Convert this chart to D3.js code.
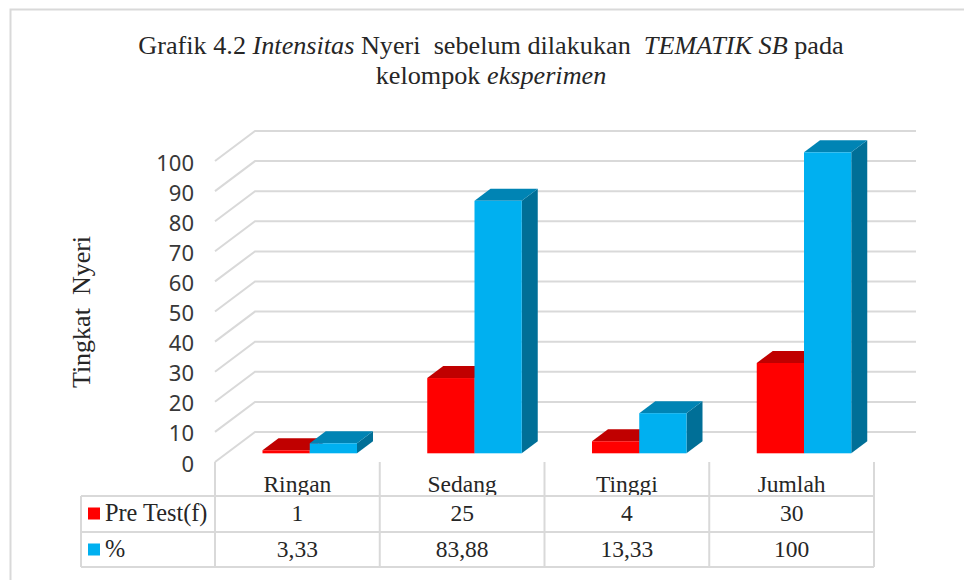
<!DOCTYPE html>
<html>
<head>
<meta charset="utf-8">
<script src="https://cdn.jsdelivr.net/npm/d3@7"></script>
<style>
  html, body { margin: 0; padding: 0; background: #fff; }
  svg { display: block; }
  text { fill: #262626; font-family: "Liberation Serif", serif; white-space: pre; }
  .tick text { font-family: "Noto Sans", sans-serif; font-size: 22px; fill: #383838; }
  .grid { stroke: #d9d9d9; stroke-width: 2; fill: none; }
</style>
</head>
<body>
<div id="chart"></div>
<script>
var categories = ["Ringan", "Sedang", "Tinggi", "Jumlah"];
var preTest = [1, 25, 4, 30];
var percent = [3.33, 83.88, 13.33, 100];
var preTestLabels = ["1", "25", "4", "30"];
var percentLabels = ["3,33", "83,88", "13,33", "100"];
var seriesNames = ["Pre Test(f)", "%"];
var yTicks = [0, 10, 20, 30, 40, 50, 60, 70, 80, 90, 100];

var width = 964, height = 580;
var depthX = 16, depthY = 12;   // bar depth
var wallX = 40, wallY = 30;     // floor depth

var svg = d3.select("#chart").append("svg")
    .attr("width", width)
    .attr("height", height);

// outer frame, only top and left are inside the picture
svg.append("path")
    .attr("class", "grid")
    .attr("stroke-width", 2)
    .attr("d", "M10.5,580V9.5H964");

// title
var title = svg.append("text")
    .attr("text-anchor", "middle")
    .attr("font-size", 26.2);
var line1 = title.append("tspan").attr("x", 491).attr("y", 54);
line1.append("tspan").text("Grafik 4.2 ");
line1.append("tspan").attr("font-style", "italic").text("Intensitas ");
line1.append("tspan").text("Nyeri  sebelum dilakukan  ");
line1.append("tspan").attr("font-style", "italic").text("TEMATIK SB ");
line1.append("tspan").text("pada");
var line2 = title.append("tspan").attr("x", 491).attr("y", 84);
line2.append("tspan").text("kelompok ");
line2.append("tspan").attr("font-style", "italic").text("eksperimen");

// y title
svg.append("text")
    .attr("transform", "translate(90,312) rotate(-90)")
    .attr("text-anchor", "middle")
    .attr("font-size", 26)
    .text("Tingkat  Nyeri");

// scales: y is the front plane of the plot
var y = d3.scaleLinear().domain([0, 100]).range([462, 161]);
var x = d3.scaleBand().domain(categories).range([215, 874]);
var inner = d3.scaleBand().domain(d3.range(2)).range([47.5, 142]);

// gridlines on the back wall and floor edge
var grid = svg.append("g");
grid.selectAll("path")
    .data(yTicks)
    .enter().append("path")
    .attr("class", "grid")
    .attr("d", function(d) {
      return "M215," + y(d) + "L" + (215 + wallX) + "," + (y(d) - wallY) + "H916";
    });

// y axis labels
svg.append("g")
    .attr("transform", "translate(194,2)")
    .call(d3.axisLeft(y).tickValues(yTicks).tickSize(0).tickPadding(0))
    .call(function(g) { g.select(".domain").remove(); });

// 3D bars
var barBase = y(0) - 8.7;
function drawBar(cat, i, value, front, top, side) {
  var x0 = x(cat) + inner(i), bw = inner.bandwidth();
  var y0 = barBase - (y(0) - y(value));
  var g = svg.append("g");
  g.append("path").attr("fill", side)
    .attr("d", "M" + (x0 + bw) + "," + y0 + "l" + depthX + "," + (-depthY) +
               "V" + (barBase - depthY) + "l" + (-depthX) + "," + depthY + "Z");
  g.append("path").attr("fill", top)
    .attr("d", "M" + x0 + "," + y0 + "l" + depthX + "," + (-depthY) +
               "h" + bw + "l" + (-depthX) + "," + depthY + "Z");
  g.append("rect").attr("fill", front)
    .attr("x", x0).attr("y", y0)
    .attr("width", bw).attr("height", barBase - y0);
}
categories.forEach(function(c, k) {
  drawBar(c, 0, preTest[k], "#ff0000", "#c00000", "#a00000");
  drawBar(c, 1, percent[k], "#00b0f0", "#0084b4", "#006f97");
});

// data table
var tableLeft = 81, rows = [496, 532, 567];
var lines = svg.append("g");
lines.selectAll("line.h")
    .data(rows)
    .enter().append("line")
    .attr("class", "grid")
    .attr("x1", tableLeft).attr("x2", 874)
    .attr("y1", function(d) { return d; })
    .attr("y2", function(d) { return d; });
lines.selectAll("line.v")
    .data(x.domain().map(function(c) { return x(c); }).concat([874]))
    .enter().append("line")
    .attr("class", "grid")
    .attr("x1", function(d) { return d; })
    .attr("x2", function(d) { return d; })
    .attr("y1", 462).attr("y2", 567);
lines.append("line")
    .attr("class", "grid")
    .attr("x1", tableLeft).attr("x2", tableLeft)
    .attr("y1", 496).attr("y2", 567);

// category labels get cut by the table's top rule
svg.append("clipPath").attr("id", "catClip")
  .append("rect").attr("x", 215).attr("y", 462).attr("width", 660).attr("height", 33);
svg.append("g").attr("clip-path", "url(#catClip)")
  .selectAll("text")
  .data(categories)
  .enter().append("text")
    .attr("x", function(d) { return x(d) + x.bandwidth() / 2; })
    .attr("y", 492)
    .attr("text-anchor", "middle")
    .attr("font-size", 23.5)
    .text(function(d) { return d; });

function tableRow(labels, yText) {
  svg.append("g").selectAll("text")
    .data(labels)
    .enter().append("text")
      .attr("x", function(d, i) { return x(categories[i]) + x.bandwidth() / 2; })
      .attr("y", yText)
      .attr("text-anchor", "middle")
      .attr("font-size", 23.5)
      .text(function(d) { return d; });
}
tableRow(preTestLabels, 521);
tableRow(percentLabels, 557);

// legend keys
var keyColors = ["#ff0000", "#00b0f0"];
seriesNames.forEach(function(name, i) {
  svg.append("rect")
    .attr("x", 88).attr("y", [507.5, 543.5][i])
    .attr("width", 12).attr("height", 12)
    .attr("fill", keyColors[i]);
  svg.append("text")
    .attr("x", 105).attr("y", [521, 557][i])
    .attr("font-size", 24.3)
    .text(name);
});
</script>
</body>
</html>
